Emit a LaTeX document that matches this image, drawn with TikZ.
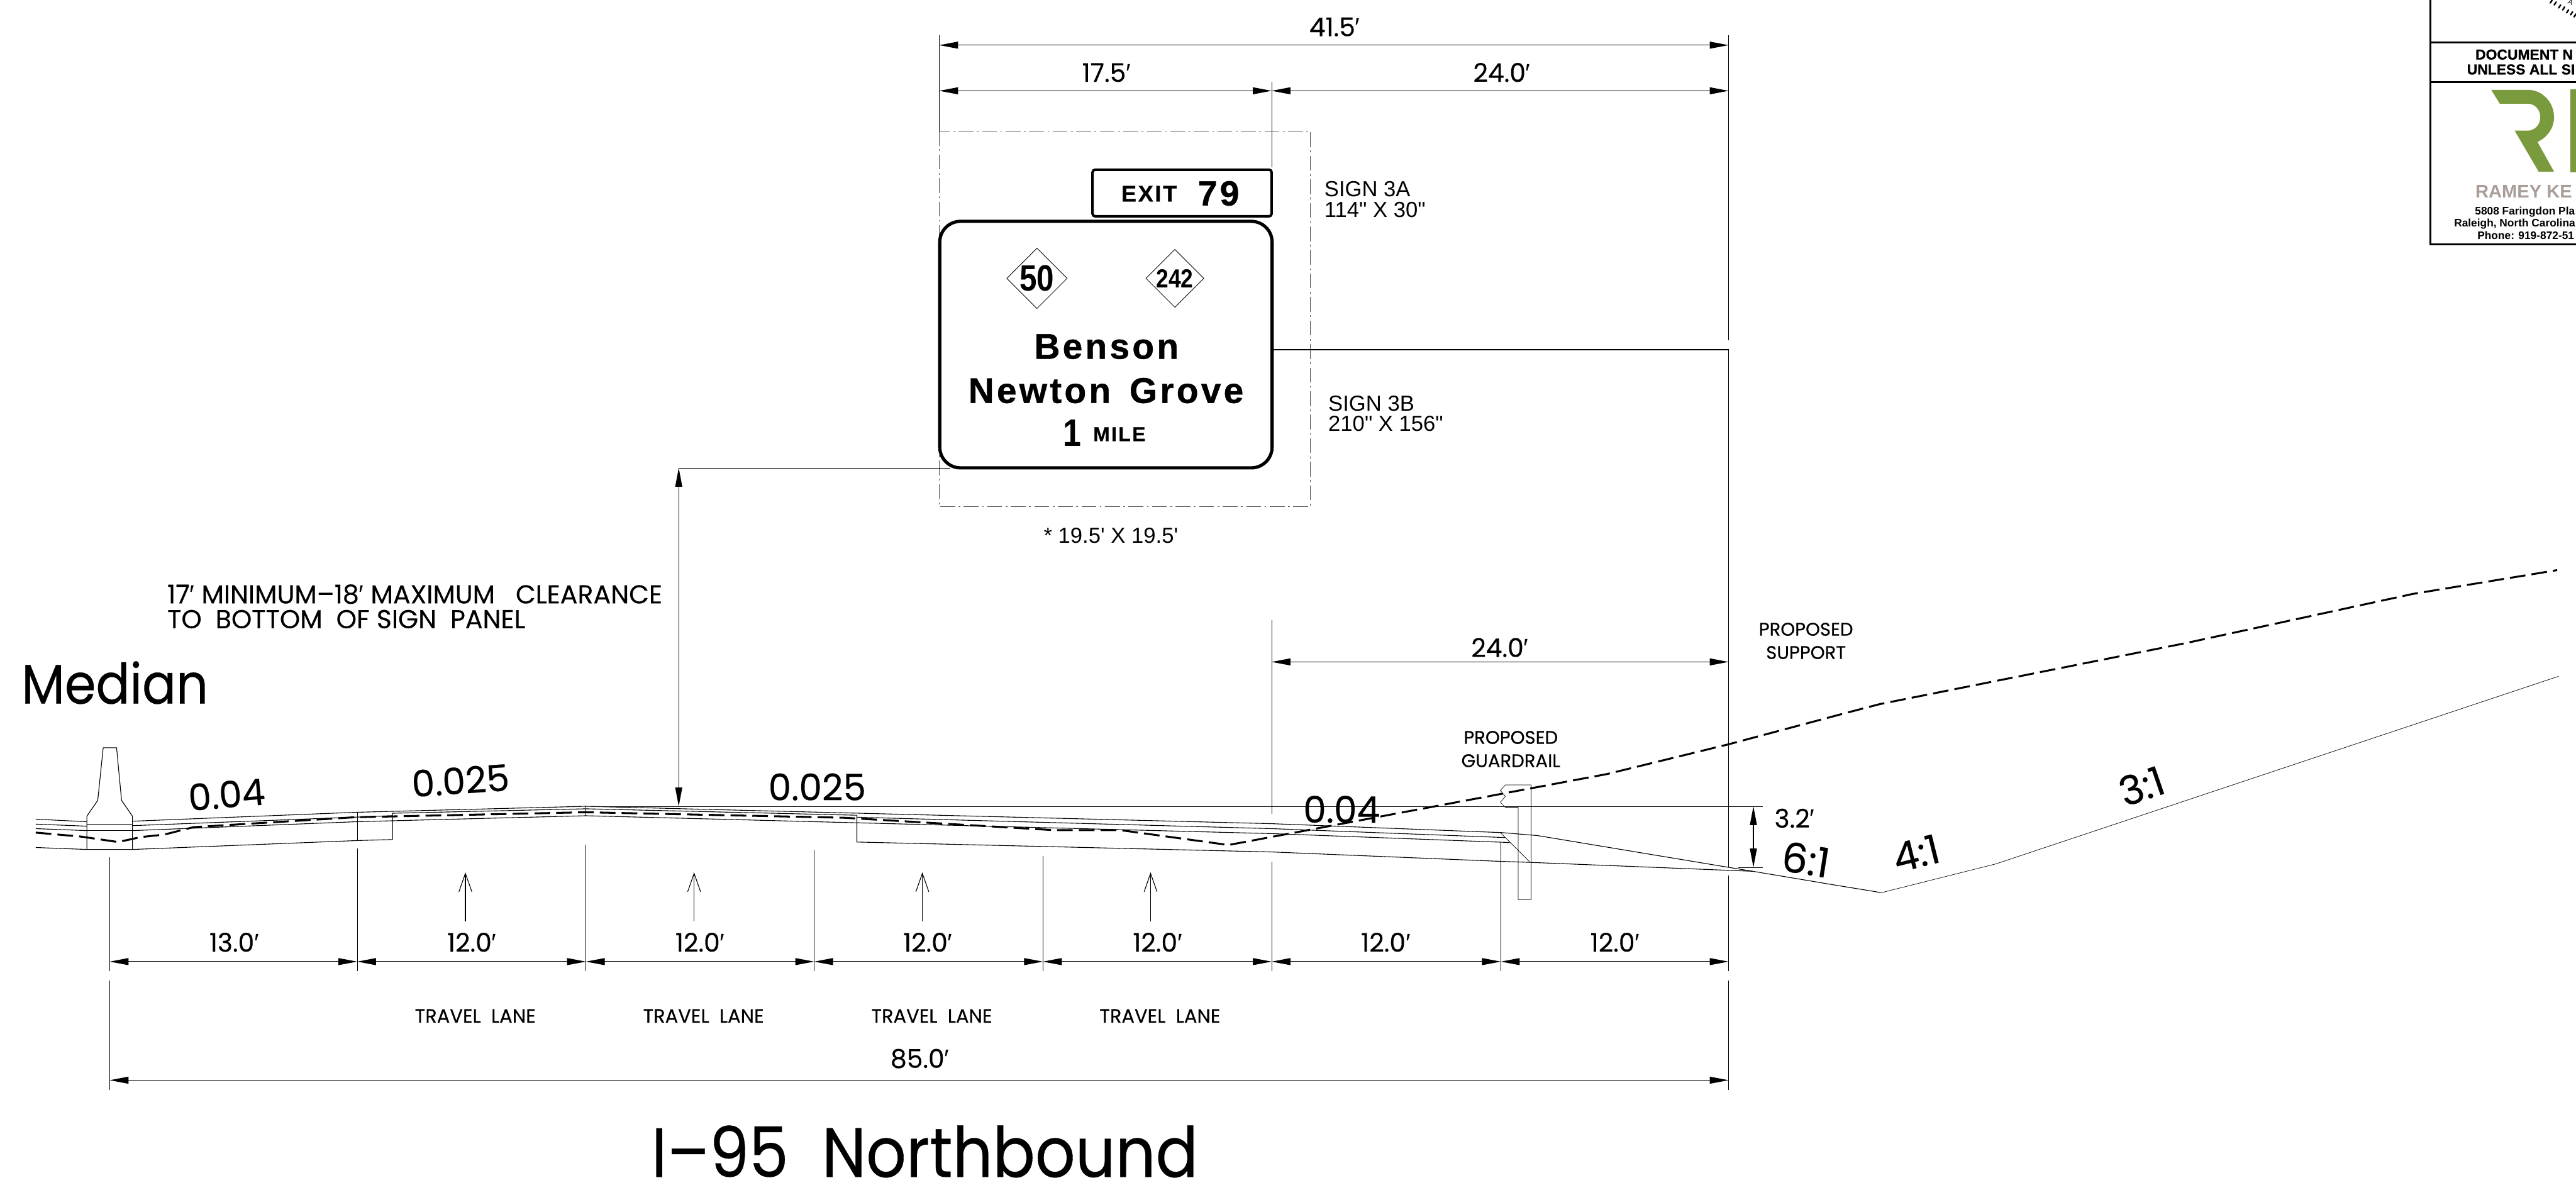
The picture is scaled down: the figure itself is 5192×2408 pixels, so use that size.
\documentclass[tikz,border=0pt]{standalone}
\usepackage{fontspec}
\usetikzlibrary{arrows.meta,shapes.geometric}
\newfontfamily\drawfont[FakeBold=0.3]{Poppins}
\newfontfamily\bigfont[FakeStretch=0.9,FakeBold=0.3]{Poppins}
\newfontfamily\plainfont{Liberation Sans}
\newfontfamily\blackfont[BoldFeatures={FakeBold=1}]{Liberation Sans}
\newfontfamily\shieldfont[FakeStretch=0.85]{Liberation Sans}
\newfontfamily\signfont[LetterSpace=7.5,BoldFeatures={FakeBold=0.8}]{Liberation Sans}
\newcommand{\ft}{{\plainfont ′}}
\definecolor{rkgreen}{HTML}{7A9A3E}
\definecolor{rkgray}{HTML}{A89E97}
\begin{document}
\begin{tikzpicture}
[x=0.02cm,y=-0.02cm,%
 every node/.style={inner sep=0pt},%
 dimline/.style={{Triangle[length=0.76cm,width=0.28cm]}-{Triangle[length=0.76cm,width=0.28cm]},line width=0.8pt},%
 lanearrow/.style={-{Straight Barb[length=0.74cm,width=0.52cm]},line width=0.8pt},%
 extline/.style={-,line width=0.5pt},%
 roadline/.style={-,line width=0.8pt},%
 groundline/.style={-,line width=2.2pt,dash pattern=on 18pt off 7pt},%
 signpanel/.style={shape=rectangle,draw,fill=white},%
 shield/.style={shape=diamond,draw,line width=0.6pt,minimum width=2.34cm,minimum height=2.34cm,font=\shieldfont\bfseries\fontsize{42}{42}\selectfont},%
 dimtext/.style={anchor=base,font=\drawfont\fontsize{29.5}{29.5}\selectfont},%
 smalltext/.style={anchor=base,align=center,font=\drawfont\fontsize{21}{26.7}\selectfont},%
 sizetext/.style={anchor=base west,align=left,font=\plainfont\fontsize{25}{23.5}\selectfont},%
 blocktext/.style={anchor=base west,font=\plainfont\bfseries\fontsize{12.5}{12.5}\selectfont}]
\useasboundingbox (0,0) rectangle (5192,2408);
%% coordinates for ticks under the road
\foreach \i/\x/\y in {0/221/1728, 1/720/1710, 2/1181/1702, 3/1641/1713,
 4/2102/1725, 5/2563/1737, 6/3025/1698, 7/3484/1765}
{
  \coordinate (tick\i) at (\x,\y);
  \coordinate (foot\i) at (\x,1957);
  \coordinate (dim\i) at (\x,1938);
}
\foreach \nodename/\x/\y in {topleft/1893/71, topright/3484/71, topmid/2563/165,
 dimA/1893/91, dimB/3484/91, dimC/1893/183, dimD/2563/183, dimE/3484/183,
 rectcorner/1893/264, extend/3484/686, panelmid/2563/337, beamstart/2563/705,
 beamend/3484/705, supportfoot/3484/1748, clearA/1368/943, clearB/1368/1625,
 clearC/1915/943, crown/1201/1625, gradeend/3553/1625, footext/3504/1748,
 footend/3553/1748, riseA/3534/1625, riseB/3534/1748, sideA/2563/1250, sideB/2563/1640,
 sideC/2563/1334, sideD/3484/1334, longA/221/1976, longB/221/2197,
 longC/3484/1976, longD/3484/2197, longE/221/2177, longF/3484/2177}
{
  \coordinate (\nodename) at (\x,\y);
}
%% sign panels
\draw[line width=0.6pt,color=black!70,dash pattern=on 17pt off 4pt on 2pt off 4pt]
 (1893,264) rectangle (2641,1021);
\node (exitpanel) at (2382.5,389) [signpanel,line width=2.9pt,rounded corners=3pt,
 minimum width=7.22cm,minimum height=1.88cm] {};
\node (guidepanel) at (2229,694.5) [signpanel,line width=3.7pt,rounded corners=0.84cm,
 minimum width=13.4cm,minimum height=9.94cm] {};
\node (exitword) at (2316,406) [anchor=base,font=\signfont\bfseries\fontsize{26}{26}\selectfont] {EXIT};
\node (exitnum) at (2456,414) [anchor=base,font=\signfont\bfseries\fontsize{40}{40}\selectfont] {79};
\node (shieldA) at (2090,561) [shield] {50};
\node (shieldB) at (2368,561) [shield,font=\shieldfont\bfseries\fontsize{30}{30}\selectfont] {242};
\node (townA) at (2230,723) [anchor=base,font=\signfont\bfseries\fontsize{41}{41}\selectfont] {Benson};
\node (townB) at (2229,812) [anchor=base,font=\signfont\bfseries\fontsize{41}{41}\selectfont] {Newton\hspace{7pt} Grove};
\node (mileA) at (2161,899) [anchor=base,font=\shieldfont\bfseries\fontsize{44}{44}\selectfont] {1};
\node (mileB) at (2256,889) [anchor=base,font=\signfont\bfseries\fontsize{23}{23}\selectfont] {MILE};
\node (signA) at (2669,438) [sizetext] {SIGN 3A\\114" X 30"};
\node (signB) at (2677,869) [sizetext] {SIGN 3B\\210" X 156"};
\node (signsize) at (2239,1095) [anchor=base,font=\plainfont\fontsize{25}{25}\selectfont] {* 19.5' X 19.5'};
%% road, barrier and guardrail
\draw[roadline] (175,1712) -- (175,1645) -- (197,1613) -- (208,1507) -- (235,1507)
 -- (245,1613) -- (267,1645) -- (267,1712) -- cycle;
\draw[roadline] (175,1661) -- (267,1661) (175,1674) -- (267,1674);
\draw[roadline] (72,1651) -- (175,1656) (72,1661) -- (175,1665) (72,1670) -- (175,1674)
 (72,1708) -- (175,1712);
\draw[roadline] (267,1655) -- (720,1637) -- (1181,1625) -- (2563,1660) -- (3027,1678)
 -- (3099,1684) -- (3484,1748) -- (3533,1756) -- (3700,1784) -- (3792,1799);
\draw[line width=0.5pt] (3792,1799) -- (4023,1741) -- (5157,1363);
\draw[roadline] (267,1664) -- (791,1644) (791,1639) -- (1181,1630) -- (1727,1643)
 (1727,1647) -- (2563,1670) -- (3034,1688);
\draw[roadline] (267,1674) -- (720,1656) -- (1181,1644) -- (2563,1680) -- (3043,1698);
\draw[roadline] (267,1712) -- (720,1694) -- (791,1692) -- (791,1639);
\draw[roadline] (1727,1643) -- (1727,1697) -- (2563,1717) -- (3025,1736) -- (3084,1738)
 -- (3533,1756);
\draw[extline] (720,1637) -- (720,1694) (1181,1625) -- (1181,1644);
\draw[extline] (3024,1678) -- (3084,1738);
\draw[extline] (3086,1582) -- (3034,1582) -- (3024,1593) -- (3034,1605) -- (3024,1617)
 -- (3034,1627) -- (3060,1627) -- (3060,1813) -- (3086,1813) -- cycle;
%% existing ground
\draw[groundline] (72,1678) -- (163,1686) -- (238,1697) -- (284,1687) -- (331,1682)
 -- (390,1667) -- (716,1647) -- (1181,1637) -- (1700,1648) -- (2124,1673) -- (2258,1673)
 -- (2476,1703) -- (3239,1560) -- (3484,1500) -- (3720,1437) -- (3789,1419) -- (4406,1296)
 -- (4863,1197) -- (5154,1149);
%% ticks and dimension lines
\path
\foreach \startnode/\endnode in {tick0/foot0, tick1/foot1, tick2/foot2, tick3/foot3,
 tick4/foot4, tick5/foot5, tick6/foot6, tick7/foot7, longA/longB, longC/longD,
 topleft/rectcorner, topright/extend, topmid/panelmid, clearA/clearC,
 crown/gradeend, footext/footend, sideA/sideB}
{
  (\startnode) edge[extline] (\endnode)
};
\path
\foreach \startnode/\endnode in {dim0/dim1, dim1/dim2, dim2/dim3, dim3/dim4, dim4/dim5,
 dim5/dim6, dim6/dim7, longE/longF, dimA/dimB, dimC/dimD, dimD/dimE, sideC/sideD,
 clearA/clearB, riseA/riseB}
{
  (\startnode) edge[dimline] (\endnode)
};
\draw[line width=1.1pt] (guidepanel.east |- beamstart) -- (beamend) -- (supportfoot);
%% lane arrows
\foreach \i/\x in {A/938, B/1399, C/1859, D/2319}
{
  \coordinate (lanefoot\i) at (\x,1857);
  \coordinate (lanetip\i) at (\x,1758);
  \draw[lanearrow] (lanefoot\i) -- (lanetip\i);
}
%% dimension labels
\foreach \nodename/\x/\y/\lbl in {spanall/2690/73/41.5, spanleft/2230/165/17.5,
 spanright/3027/165/24.0, spanpost/3023/1324/24.0, lab0/472/1918/13.0,
 lab1/951/1918/12.0, lab2/1411/1918/12.0, lab3/1870/1918/12.0, lab4/2333/1918/12.0,
 lab5/2793/1918/12.0, lab6/3255/1918/12.0, lab7/1854/2152/85.0, labrise/3617/1668/3.2}
{
  \node (\nodename) at (\x,\y) [dimtext] {\lbl\ft};
}
\foreach \nodename/\x in {laneA/958, laneB/1418, laneC/1878, laneD/2338}
{
  \node (\nodename) at (\x,2061) [anchor=base,font=\drawfont\fontsize{22}{22}\selectfont] {TRAVEL\ \ LANE};
}
\foreach \nodename/\x/\y/\rot/\fsize/\lbl in {gradeA/459/1628/5/42/0.04, gradeB/930/1600/4/42/0.025,
 gradeC/1647/1613/0/42/0.025, gradeD/2704/1658/0/42/0.04, slopeA/3635/1762/-9/47/6:1,
 slopeB/3869/1748/14/46/4:1, slopeC/4326/1612/19/46/3:1}
{
  \node (\nodename) at (\x,\y) [anchor=base,rotate=\rot,font=\drawfont\fontsize{\fsize}{\fsize}\selectfont] {\lbl};
}
\node (postlabel) at (3640,1328) [smalltext] {PROPOSED\\SUPPORT};
\node (raillabel) at (3045,1546) [smalltext] {PROPOSED\\GUARDRAIL};
\node (clearlabel) at (337,1266) [anchor=base west,align=left,font=\drawfont\fontsize{29.7}{28.4}\selectfont]
 {17\ft{} MINIMUM–18\ft{} MAXIMUM\ \ \ CLEARANCE\\TO\ \ BOTTOM\ \ OF SIGN\ \ PANEL};
\node (medianlabel) at (43,1418) [anchor=base west,font=\bigfont\fontsize{64}{64}\selectfont] {Median};
\node (titlelabel) at (1864,2372) [anchor=base,font=\bigfont\fontsize{80}{80}\selectfont] {I–95\ \ Northbound};
%% title block in the corner
\draw[line width=2.2pt] (4899,0) -- (4899,492) -- (5192,492) (4899,85) -- (5192,85)
 (4899,166) -- (5192,166);
\foreach \x/\y in {5142/3, 5150/7, 5159/13, 5167/17, 5175/23, 5183/27, 5190/31}
{
  \draw[line width=1.7pt,line cap=round] (\x-2,\y+3) -- (\x+2,\y-3);
}
\node (sealletter) at (5181,4) [font=\plainfont\fontsize{8}{8}\selectfont,rotate=-25] {A};
\node (blockA) at (4989,120) [blocktext,font=\blackfont\bfseries\fontsize{16.5}{16.5}\selectfont] {DOCUMENT N};
\node (blockB) at (4972,150) [blocktext,font=\blackfont\bfseries\fontsize{16.5}{16.5}\selectfont] {UNLESS ALL SI};
\fill[rkgreen] (5021,181) -- (5095,181) .. controls (5124,181) and (5147.7,206) .. (5147.7,236)
 .. controls (5147.7,258) and (5134,277) .. (5114.3,286) -- (5147.7,346) -- (5116.7,346)
 -- (5068.3,263.3) -- (5095,263.3) .. controls (5109,263.3) and (5120,251) .. (5120,236)
 .. controls (5120,221) and (5109,209) .. (5095,209) -- (5038.3,209) -- cycle;
\fill[rkgreen] (5180,180) rectangle (5192,347);
\node (blockC) at (4989,399) [blocktext,text=rkgray,font=\plainfont\bfseries\fontsize{21}{21}\selectfont] {RAMEY KE};
\node (blockD) at (4988,433) [blocktext] {5808 Faringdon Pla};
\node (blockE) at (4946,457) [blocktext] {Raleigh, North Carolina};
\node (blockF) at (4993,482) [blocktext] {Phone: 919-872-51};
\end{tikzpicture}
\end{document}
